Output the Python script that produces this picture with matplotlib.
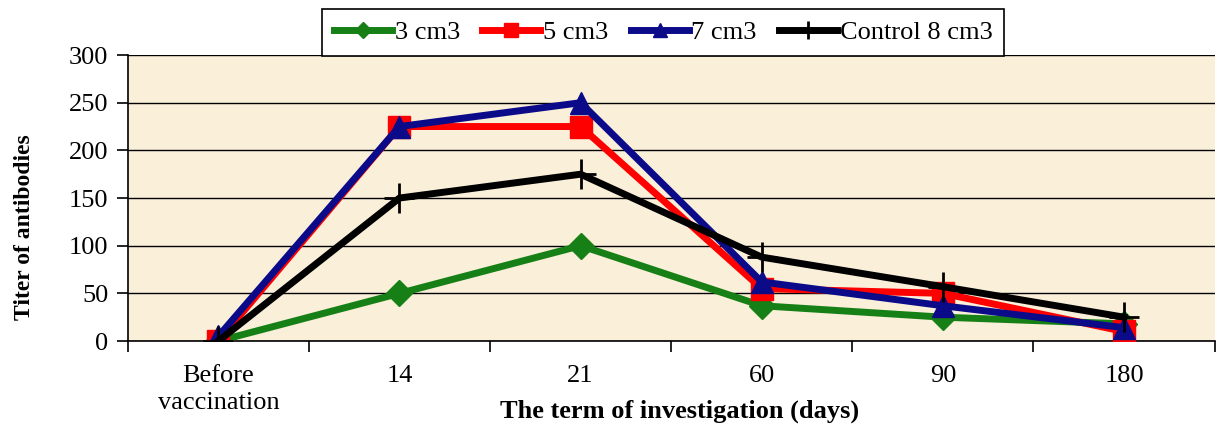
import matplotlib
matplotlib.use("Agg")
import matplotlib.pyplot as plt
import numpy as np

categories = ["Before\nvaccination", "14", "21", "60", "90", "180"]
s3 = [0, 50, 100, 37, 25, 18]
s5 = [0, 225, 225, 55, 50, 10]
s7 = [5, 225, 250, 62, 37, 14]
ctrl = [0, 150, 175, 88, 57, 25]
labels = ["3 cm3", "5 cm3", "7 cm3", "Control 8 cm3"]

plt.rcParams['font.family'] = ['Liberation Serif', 'DejaVu Serif']
fig = plt.figure(figsize=(12.17, 4.32), dpi=100)
ax = fig.add_axes([0.105, 0.2106, 0.893, 0.662])
ax.set_facecolor('#FAF0DA')
x = np.arange(len(categories))
ax.plot(x, s3, color='#168016', lw=5, marker='D', ms=13, label=labels[0], zorder=3)
ax.plot(x, s5, color='#FF0000', lw=5, marker='s', ms=16, label=labels[1], zorder=4)
ax.plot(x, s7, color='#0B0B8A', lw=5, marker='^', ms=16, label=labels[2], zorder=5)
ax.plot(x, ctrl, color='black', lw=5, marker='+', ms=22, mew=2, label=labels[3], zorder=6)

ax.set_xlim(-0.5, 5.5)
ax.set_ylim(0, 300)
ax.set_yticks(range(0, 301, 50))
ax.yaxis.grid(True, color='black', lw=1)
ax.set_axisbelow(True)
ax.set_xticks(x)
ax.set_xticklabels(categories, fontsize=19, linespacing=1.3)
ax.tick_params(axis='x', length=0, pad=17.5)
ax.set_xticks(np.arange(-0.5, 5.6, 1), minor=True)
ax.tick_params(axis='x', which='minor', length=8, width=1.2, direction='out')
ax.tick_params(axis='y', labelsize=19, length=8, width=1.2, direction='out', pad=6)
for s in ['top', 'right']:
    ax.spines[s].set_visible(False)
for s in ['left', 'bottom']:
    ax.spines[s].set_linewidth(1.2)
ax.set_xlabel("The term of investigation (days)", fontsize=19, fontweight='bold')
ax.xaxis.set_label_coords(0.508, -0.205)
ax.set_ylabel("Titer of antibodies", fontsize=17, fontweight='bold')
ax.yaxis.set_label_coords(-0.085, 0.40)

leg = fig.legend(loc='center', bbox_to_anchor=(0.545, 0.925), ncol=4, fontsize=19,
                 frameon=True, fancybox=False, edgecolor='black', framealpha=1,
                 handlelength=2.2, handletextpad=0.1, columnspacing=0.85,
                 borderpad=0.45, markerscale=0.6)
leg.get_frame().set_linewidth(1.2)
leg.set_zorder(10)
fig.savefig("out.png", dpi=100)
